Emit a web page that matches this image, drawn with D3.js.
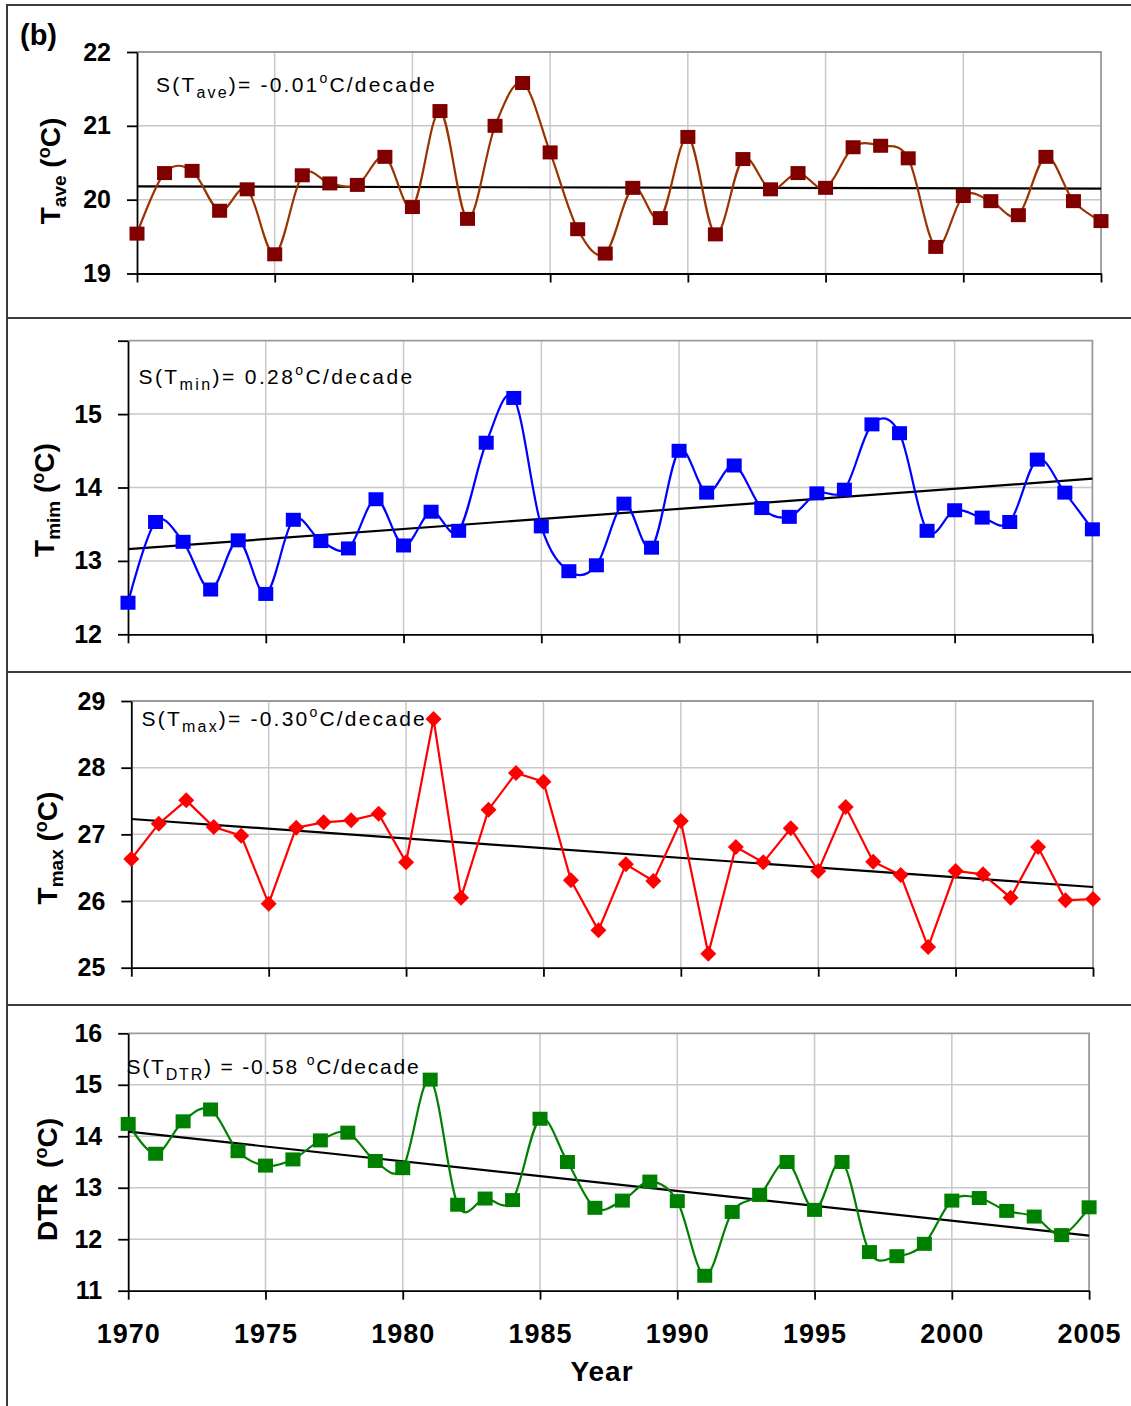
<!DOCTYPE html>
<html><head><meta charset="utf-8">
<script src="https://cdn.jsdelivr.net/npm/d3@7"></script>
<style>
body{margin:0;background:#fff}
svg{display:block}
text{font-family:"Liberation Sans",Arial,Helvetica,sans-serif}
</style>
</head><body>
<svg id="c" width="1131" height="1406"></svg>
<script>
// ---------------- data ----------------
const years = [1970,1971,1972,1973,1974,1975,1976,1977,1978,1979,
               1980,1981,1982,1983,1984,1985,1986,1987,1988,1989,
               1990,1991,1992,1993,1994,1995,1996,1997,1998,1999,
               2000,2001,2002,2003,2004,2005];
const tave = [19.54,20.36,20.39,19.85,20.14,19.26,20.33,20.22,20.20,20.58,
              19.90,21.20,19.74,21.00,21.58,20.64,19.60,19.27,20.16,19.75,
              20.85,19.53,20.55,20.14,20.36,20.16,20.71,20.73,20.56,19.36,
              20.05,19.98,19.79,20.58,19.98,19.71];
const tmin = [12.43,13.53,13.26,12.61,13.28,12.55,13.56,13.27,13.17,13.84,
              13.21,13.67,13.41,14.61,15.22,13.47,12.86,12.94,13.78,13.18,
              14.50,13.93,14.30,13.72,13.60,13.92,13.97,14.86,14.74,13.41,
              13.69,13.59,13.53,14.38,13.93,13.43];
const tmax = [26.63,27.16,27.51,27.11,26.98,25.96,27.10,27.18,27.21,27.31,
              26.58,28.73,26.05,27.37,27.92,27.79,26.31,25.56,26.55,26.30,
              27.20,25.21,26.81,26.58,27.09,26.45,27.41,26.59,26.39,25.31,
              26.45,26.40,26.05,26.81,26.01,26.03];
const dtr  = [14.24,13.66,14.29,14.52,13.71,13.43,13.55,13.92,14.07,13.52,
              13.38,15.10,12.67,12.79,12.76,14.34,13.50,12.61,12.75,13.12,
              12.74,11.29,12.53,12.86,13.50,12.57,13.50,11.75,11.67,11.91,
              12.75,12.80,12.55,12.44,12.08,12.62];
const trendYears = [1970, 2005];
const taveTrend = [20.18, 20.15];
const tminTrend = [13.16, 14.12];
const tmaxTrend = [27.23, 26.21];
const dtrTrend  = [14.09, 12.07];
const xTicks = [1970,1975,1980,1985,1990,1995,2000,2005];
const taveTicks = [19,20,21,22];
const tminTicks = [12,13,14,15,16];
const tminLabels = [12,13,14,15];
const tmaxTicks = [25,26,27,28,29];
const dtrTicks  = [11,12,13,14,15,16];

// ---------------- layout ----------------
const svg = d3.select("#c");

const fr = svg.append("g").attr("stroke","#3c3c3c").attr("stroke-width",2);
fr.append("line").attr("x1",7).attr("x2",7).attr("y1",4).attr("y2",1406);
[5,318,672,1005].forEach(y=>fr.append("line").attr("x1",7).attr("x2",1131).attr("y1",y).attr("y2",y));

svg.append("text").attr("x",20).attr("y",45).attr("font-size",29).attr("font-weight","bold").text("(b)");

const panels = [
  {values:tave, trend:taveTrend, ticks:taveTicks, labels:taveTicks, domain:[19,22],
   line:"#993300", fill:"#800000", marker:"square", smooth:true,
   box:[137,1101,52,273.5],
   ylab:{x:60,y:171,main:"T",sub:"ave"},
   ann:{x:156,y:91.5,ls:2.2,parts:[["S(T"],["ave","sub"],[")= -0.01"],["o","sup"],["C/decade"]]}},
  {values:tmin, trend:tminTrend, ticks:tminTicks, labels:tminLabels, domain:[12,16],
   line:"#0000FF", fill:"#0000FF", marker:"square", smooth:true,
   box:[128,1092.4,340.7,634.3],
   ylab:{x:54,y:500,main:"T",sub:"mim"},
   ann:{x:138.5,y:383.5,ls:2.4,parts:[["S(T"],["min","sub"],[")= 0.28"],["o","sup"],["C/decade"]]}},
  {values:tmax, trend:tmaxTrend, ticks:tmaxTicks, labels:tmaxTicks, domain:[25,29],
   line:"#FF0000", fill:"#FF0000", marker:"diamond", smooth:false,
   box:[131.3,1093,701,967.7],
   ylab:{x:57,y:848,main:"T",sub:"max"},
   ann:{x:141.6,y:725.5,ls:2.2,parts:[["S(T"],["max","sub"],[")= -0.30"],["o","sup"],["C/decade"]]}},
  {values:dtr, trend:dtrTrend, ticks:dtrTicks, labels:dtrTicks, domain:[11,16],
   line:"#008000", fill:"#008000", marker:"square", smooth:true,
   box:[128.2,1089.1,1033.3,1290.7],
   ylab:{x:57,y:1179.5,main:"DTR",sub:null,gap:"  "},
   ann:{x:126.5,y:1073.5,ls:1.8,parts:[["S(T"],["DTR","sub"],[") = -0.58 "],["o","sup"],["C/decade"]]},
   bottom:true}
];

function richText(sel, parts, subSize, supSize, subDy, supDy){
  let cur = 0;
  parts.forEach(p=>{
    const t = sel.append("tspan").text(p[0]);
    let target = 0;
    if(p[1]==="sub"){ target = subDy; t.attr("font-size",subSize); }
    else if(p[1]==="sup"){ target = supDy; t.attr("font-size",supSize); }
    if(target!==cur){ t.attr("dy", target-cur); cur = target; }
  });
}

panels.forEach(P=>{
  const [x0,x1,y0,y1] = P.box;
  const x = d3.scaleLinear().domain([1970,2005]).range([x0,x1]);
  const y = d3.scaleLinear().domain(P.domain).range([y1,y0]);
  const g = svg.append("g");

  const grid = g.append("g").attr("stroke","#c8c8c8").attr("stroke-width",1.5);
  P.ticks.filter(v=>v>P.domain[0] && v<P.domain[1]).forEach(v=>
    grid.append("line").attr("x1",x0).attr("x2",x1).attr("y1",y(v)).attr("y2",y(v)));
  xTicks.filter(v=>v>1970 && v<2005).forEach(v=>
    grid.append("line").attr("x1",x(v)).attr("x2",x(v)).attr("y1",y0).attr("y2",y1));
  g.append("path").attr("d",`M${x0},${y0}H${x1}V${y1}`).attr("fill","none")
    .attr("stroke","#9a9a9a").attr("stroke-width",1.8);

  const ya = d3.axisLeft(y).tickValues(P.ticks).tickSize(10).tickSizeOuter(0).tickPadding(16)
    .tickFormat(v=>P.labels.includes(v)?v:"");
  const yg = g.append("g").attr("transform",`translate(${x0},0)`).call(ya);
  yg.selectAll("path,line").attr("stroke","#000").attr("stroke-width",1.8);
  yg.selectAll("text").attr("font-size",25).attr("font-weight","bold").attr("fill","#000")
    .attr("font-family",'"Liberation Sans",Arial,sans-serif');

  const xa = d3.axisBottom(x).tickValues(xTicks).tickSize(9).tickSizeOuter(0).tickPadding(24)
    .tickFormat(v=>P.bottom? String(v):"");
  const xg = g.append("g").attr("transform",`translate(0,${y1})`).call(xa);
  xg.selectAll("path,line").attr("stroke","#000").attr("stroke-width",1.8);
  xg.selectAll("text").attr("font-size",27).attr("font-weight","bold").attr("fill","#000")
    .attr("letter-spacing",1).attr("font-family",'"Liberation Sans",Arial,sans-serif');

  const tl = d3.line().x((d,i)=>x(trendYears[i])).y(d=>y(d));
  g.append("path").attr("d",tl(P.trend)).attr("fill","none").attr("stroke","#000").attr("stroke-width",2.2);

  const sl = d3.line().x((d,i)=>x(years[i])).y(d=>y(d))
    .curve(P.smooth? d3.curveCatmullRom.alpha(0) : d3.curveLinear);
  g.append("path").attr("d",sl(P.values)).attr("fill","none").attr("stroke",P.line).attr("stroke-width",2.2);

  if(P.marker==="square"){
    g.selectAll("rect.m").data(P.values).join("rect").attr("class","m")
      .attr("x",(d,i)=>x(years[i])-7.5).attr("y",d=>y(d)-7).attr("width",15).attr("height",14)
      .attr("fill",P.fill);
  } else {
    const sym = d3.symbol(d3.symbolSquare, 128)();
    g.selectAll("path.m").data(P.values).join("path").attr("class","m")
      .attr("d",sym).attr("transform",(d,i)=>`translate(${x(years[i])},${y(d)}) rotate(45)`)
      .attr("fill",P.fill);
  }

  const at = g.append("text").attr("x",P.ann.x).attr("y",P.ann.y).attr("font-size",21)
    .attr("letter-spacing",P.ann.ls).attr("fill","#000").attr("xml:space","preserve");
  richText(at, P.ann.parts, 16, 14, 6, -9);

  const yl = g.append("text").attr("transform",`translate(${P.ylab.x},${P.ylab.y}) rotate(-90)`)
    .attr("text-anchor","middle").attr("font-size",28).attr("font-weight","bold").attr("fill","#000")
    .attr("xml:space","preserve");
  const lp = P.ylab.sub ? [[P.ylab.main],[P.ylab.sub,"sub"],[" ("],["o","sup"],["C)"]]
                        : [[P.ylab.main + P.ylab.gap + "("],["o","sup"],["C)"]];
  richText(yl, lp, 19, 18, 6, -10);
});

svg.append("text").attr("x",602).attr("y",1381).attr("text-anchor","middle")
  .attr("font-size",28).attr("font-weight","bold").attr("letter-spacing",1).text("Year");
</script>
</body></html>
